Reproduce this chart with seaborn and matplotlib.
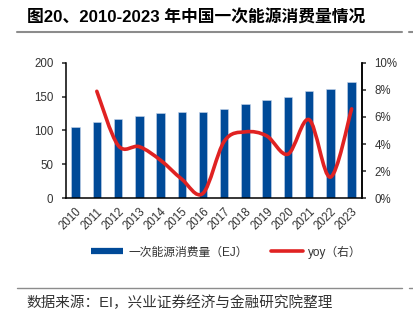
import numpy as np
import pandas as pd
import matplotlib
matplotlib.use("Agg")
import matplotlib.pyplot as plt
import seaborn as sns
from matplotlib.path import Path
from matplotlib.patches import PathPatch
from matplotlib.lines import Line2D
from matplotlib.ticker import FuncFormatter

years = ["2010", "2011", "2012", "2013", "2014", "2015", "2016",
         "2017", "2018", "2019", "2020", "2021", "2022", "2023"]
consumption = [104.7, 113.0, 117.6, 122.0, 125.6, 127.0, 127.5,
               132.0, 138.5, 145.4, 149.9, 158.8, 161.3, 171.2]
yoy_years = years[1:]
yoy = [7.9, 3.9, 3.8, 2.8, 1.4, 0.35, 4.2, 4.9, 4.6, 3.25, 5.8, 1.55, 6.6]

bar_label = "一次能源消费量（EJ）"
line_label = "yoy（右）"
title = "图20、2010-2023 年中国一次能源消费量情况"
source = "数据来源：EI，兴业证券经济与金融研究院整理"

sns.set_style("white")
plt.rcParams["font.family"] = ["Liberation Sans", "Noto Sans CJK SC", "DejaVu Sans"]

BLUE = "#004A98"
RED = "#E02222"
TXT = "#333333"

fig = plt.figure(figsize=(4.14, 3.21), dpi=100)
ax = fig.add_axes([0.159, 0.383, 0.715, 0.421])

df = pd.DataFrame({"year": years, "value": consumption})
sns.barplot(data=df, x="year", y="value", ax=ax, color=BLUE, saturation=1,
            width=0.4, edgecolor="#C8D6EA", linewidth=0.4)
ax.set_xlim(-0.46, 13.48)
ax.set_ylim(0, 200)
ax.set_yticks([0, 50, 100, 150, 200])
ax.set_xlabel("")
ax.set_ylabel("")
for s in ["left", "bottom", "right"]:
    ax.spines[s].set_color("black")
    ax.spines[s].set_linewidth(1.1)
ax.spines["top"].set_visible(False)
ax.tick_params(axis="y", left=True, length=3, width=1.1, direction="out",
               labelsize=8.3, labelcolor=TXT, pad=6)
ax.tick_params(axis="x", bottom=False, labelsize=8.3, labelcolor=TXT, pad=2)
for lab in ax.get_xticklabels():
    lab.set_rotation(45)
    lab.set_ha("right")
    lab.set_rotation_mode("anchor")

ax2 = ax.twinx()
ax2.set_ylim(0, 10)
ax2.set_yticks([0, 2, 4, 6, 8, 10])
ax2.yaxis.set_major_formatter(FuncFormatter(lambda v, p: f"{v:.0f}%"))
ax2.tick_params(axis="y", right=True, length=3, width=1.1, direction="out",
                labelsize=8.3, labelcolor=TXT, pad=6)
for s in ["left", "bottom", "top"]:
    ax2.spines[s].set_visible(False)
ax2.spines["right"].set_color("black")
ax2.spines["right"].set_linewidth(1.1)

# smooth curve (Bezier through data points)
xs = np.array([years.index(y) for y in yoy_years], dtype=float)
ys = np.array(yoy, dtype=float)
n = len(xs)
verts = [(xs[0], ys[0])]
codes = [Path.MOVETO]
for i in range(n - 1):
    p0 = np.array([xs[max(i - 1, 0)], ys[max(i - 1, 0)]])
    p1 = np.array([xs[i], ys[i]])
    p2 = np.array([xs[i + 1], ys[i + 1]])
    p3 = np.array([xs[min(i + 2, n - 1)], ys[min(i + 2, n - 1)]])
    c1 = p1 + (p2 - p0) / 6
    c2 = p2 - (p3 - p1) / 6
    verts += [tuple(c1), tuple(c2), tuple(p2)]
    codes += [Path.CURVE4] * 3
patch = PathPatch(Path(verts, codes), facecolor="none", edgecolor=RED,
                  lw=2.6, capstyle="round", joinstyle="round")
ax2.add_patch(patch)

handles = [Line2D([], [], color=BLUE, lw=4.5, solid_capstyle="butt"),
           Line2D([], [], color=RED, lw=2.6)]
fig.legend(handles, [bar_label, line_label], loc="center",
           bbox_to_anchor=(0.547, 0.215), ncol=2, frameon=False,
           fontsize=8.5, handlelength=2.7, columnspacing=2.0, handletextpad=0.4,
           labelcolor=TXT)

fig.text(0.065, 0.944, title, fontsize=12.1, fontweight="bold", color="black",
         va="center", ha="left")
fig.add_artist(Line2D([17 / 414, 402 / 414], [1 - 32 / 321] * 2,
                      color="#8C8C8C", lw=1.5))
fig.add_artist(Line2D([409 / 414, 414 / 414], [1 - 32 / 321] * 2,
                      color="#8C8C8C", lw=1.5))
fig.add_artist(Line2D([17 / 414, 402 / 414], [1 - 288 / 321] * 2,
                      color="#8C8C8C", lw=1.0))
fig.add_artist(Line2D([409 / 414, 414 / 414], [1 - 288 / 321] * 2,
                      color="#8C8C8C", lw=1.0))
fig.text(0.065, 1 - 303 / 321, source, fontsize=10.5, color=TXT,
         va="center", ha="left")

fig.savefig("out.png", dpi=100, facecolor="white")
